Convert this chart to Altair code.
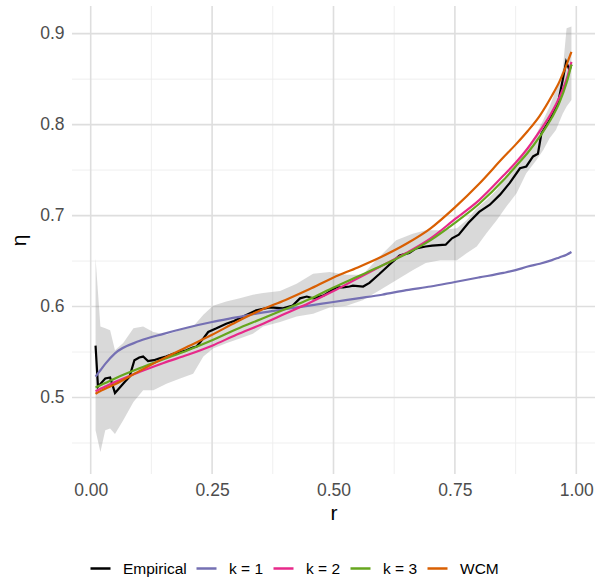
import altair as alt
import pandas as pd

# ---------------- data ----------------
emp_x = [0.01, 0.015, 0.02, 0.03, 0.04, 0.05, 0.06, 0.07, 0.08, 0.09, 0.1, 0.108, 0.118,
         0.13, 0.142, 0.155, 0.17, 0.185, 0.197, 0.21, 0.218, 0.232, 0.242, 0.259, 0.279,
         0.295, 0.314, 0.341, 0.369, 0.396, 0.416, 0.431, 0.445, 0.458, 0.479, 0.506, 0.52,
         0.533, 0.54, 0.561, 0.574, 0.595, 0.615, 0.636, 0.656, 0.67, 0.69, 0.703, 0.731,
         0.744, 0.758, 0.778, 0.8, 0.822, 0.843, 0.863, 0.884, 0.897, 0.911, 0.921, 0.928,
         0.945, 0.962, 0.972, 0.979, 0.986, 0.99]
emp_y = [0.557, 0.512, 0.515, 0.521, 0.522, 0.505, 0.511, 0.517, 0.523, 0.541, 0.544, 0.545,
         0.540, 0.541, 0.543, 0.545, 0.548, 0.550, 0.552, 0.555, 0.556, 0.565, 0.572, 0.576,
         0.581, 0.584, 0.589, 0.596, 0.599, 0.598, 0.601, 0.609, 0.611, 0.609, 0.612, 0.621,
         0.621, 0.622, 0.623, 0.622, 0.626, 0.636, 0.646, 0.656, 0.659, 0.664, 0.666, 0.667,
         0.668, 0.675, 0.679, 0.692, 0.704, 0.712, 0.723, 0.736, 0.752, 0.754, 0.765, 0.768,
         0.790, 0.805, 0.823, 0.849, 0.869, 0.860, 0.866]

band_x = [0.01, 0.02, 0.03, 0.04, 0.05, 0.067, 0.088, 0.108, 0.129, 0.156, 0.184, 0.211,
          0.232, 0.252, 0.279, 0.307, 0.334, 0.355, 0.39, 0.424, 0.458, 0.492, 0.527, 0.56,
          0.595, 0.629, 0.663, 0.69, 0.72, 0.754, 0.774, 0.795, 0.815, 0.836, 0.856, 0.877,
          0.897, 0.918, 0.932, 0.945, 0.958, 0.972, 0.98, 0.99]
band_hi = [0.653, 0.578, 0.576, 0.574, 0.552, 0.560, 0.576, 0.578, 0.572, 0.569, 0.574, 0.578,
           0.591, 0.601, 0.6055, 0.609, 0.613, 0.615, 0.617, 0.625, 0.636, 0.638, 0.635, 0.635,
           0.655, 0.673, 0.680, 0.684, 0.684, 0.686, 0.695, 0.708, 0.717, 0.728, 0.743, 0.7575,
           0.772, 0.790, 0.805, 0.820, 0.838, 0.860, 0.906, 0.908]
band_lo = [0.464, 0.440, 0.464, 0.466, 0.460, 0.475, 0.495, 0.508, 0.508, 0.515, 0.521, 0.526,
           0.545, 0.554, 0.5596, 0.565, 0.570, 0.578, 0.583, 0.589, 0.592, 0.599, 0.601, 0.607,
           0.618, 0.629, 0.640, 0.648, 0.651, 0.651, 0.6585, 0.666, 0.6805, 0.695, 0.710, 0.7245,
           0.7465, 0.761, 0.772, 0.785, 0.794, 0.812, 0.820, 0.827]

model_x = [0.01, 0.02, 0.03, 0.05, 0.1, 0.15, 0.2, 0.25, 0.3, 0.35, 0.4, 0.45, 0.5, 0.55,
           0.6, 0.65, 0.7, 0.75, 0.8, 0.85, 0.875, 0.9, 0.925, 0.95, 0.965, 0.98, 0.99]
k1_y = [0.523, 0.530, 0.537, 0.5485, 0.562, 0.570, 0.577, 0.583, 0.588, 0.593, 0.597, 0.601,
        0.605, 0.609, 0.613, 0.618, 0.622, 0.627, 0.632, 0.637, 0.640, 0.644, 0.647, 0.651,
        0.654, 0.657, 0.660]
k2_y = [0.507, 0.5095, 0.512, 0.517, 0.528, 0.538, 0.547, 0.557, 0.569, 0.580, 0.592, 0.604,
        0.617, 0.631, 0.645, 0.659, 0.675, 0.696, 0.717, 0.744, 0.758, 0.774, 0.793, 0.814,
        0.830, 0.850, 0.869]
k3_y = [0.511, 0.5135, 0.516, 0.521, 0.532, 0.542, 0.552, 0.563, 0.575, 0.586, 0.597, 0.608,
        0.621, 0.633, 0.645, 0.658, 0.673, 0.692, 0.713, 0.739, 0.754, 0.769, 0.787, 0.808,
        0.824, 0.846, 0.866]
wcm_y = [0.504, 0.507, 0.5095, 0.5145, 0.529, 0.543, 0.556, 0.569, 0.583, 0.596, 0.607, 0.619,
         0.632, 0.643, 0.655, 0.669, 0.686, 0.709, 0.735, 0.764, 0.778, 0.793, 0.810, 0.832,
         0.847, 0.866, 0.880]

series_names = ["Empirical", "k = 1", "k = 2", "k = 3", "WCM"]
series_colors = ["#000000", "#7570B3", "#E7298A", "#66A61E", "#D95F02"]

x_major = [0.0, 0.25, 0.5, 0.75, 1.0]
x_minor = [0.125, 0.375, 0.625, 0.875]
y_major = [0.5, 0.6, 0.7, 0.8, 0.9]
y_minor = [0.45, 0.55, 0.65, 0.75, 0.85]

# ---------------- tables ----------------
emp_df = pd.DataFrame({"r": emp_x, "eta": emp_y, "series": "Empirical"})
rows = []
for nm, yv in [("k = 1", k1_y), ("k = 2", k2_y), ("k = 3", k3_y), ("WCM", wcm_y)]:
    rows += [{"r": a, "eta": b, "series": nm} for a, b in zip(model_x, yv)]
mod_df = pd.DataFrame(rows)
band_df = pd.DataFrame({"r": band_x, "lo": band_lo, "hi": band_hi})

xs = alt.Scale(domain=[-0.0385, 1.0385], nice=False, zero=False)
ys = alt.Scale(domain=[0.4159, 0.9304], nice=False, zero=False)

FONT = "Liberation Sans"

x_axis = alt.Axis(values=x_major, format=".2f", title="r", grid=False, ticks=False,
                  domain=False, labelFontSize=17.5, labelColor="#4d4d4d",
                  labelPadding=7, labelFont=FONT, titleFont=FONT, titleFontSize=21,
                  titleFontWeight="normal", titleColor="#000000", titlePadding=4)
y_axis = alt.Axis(values=y_major, format=".1f", title="η", grid=False, ticks=False,
                  domain=False, labelFontSize=17.5, labelColor="#4d4d4d",
                  labelPadding=8, labelFont=FONT, titleFont=FONT, titleFontSize=21,
                  titleFontWeight="normal", titleColor="#000000", titlePadding=10)

def vrules(vals, color, w):
    return alt.Chart(pd.DataFrame({"v": vals})).mark_rule(color=color, strokeWidth=w).encode(
        x=alt.X("v:Q", scale=xs, axis=x_axis, title="r"))

def hrules(vals, color, w):
    return alt.Chart(pd.DataFrame({"v": vals})).mark_rule(color=color, strokeWidth=w).encode(
        y=alt.Y("v:Q", scale=ys, axis=y_axis, title="η"))

grid = alt.layer(
    vrules(x_minor, "#ededed", 0.9),
    hrules(y_minor, "#ededed", 0.9),
    vrules(x_major, "#dedede", 1.6),
    hrules(y_major, "#dedede", 1.6),
)

band = alt.Chart(band_df).mark_area(color="#808080", opacity=0.3).encode(
    x=alt.X("r:Q", scale=xs, axis=x_axis, title="r"),
    y=alt.Y("lo:Q", scale=ys, axis=y_axis, title="η"),
    y2="hi:Q",
)

color_enc = alt.Color(
    "series:N",
    scale=alt.Scale(domain=series_names, range=series_colors),
    legend=alt.Legend(title=None, orient="none", direction="horizontal",
                      legendX=17, legendY=551, symbolType="stroke",
                      symbolSize=400, symbolStrokeWidth=2.5,
                      labelFontSize=15.5, labelFont=FONT, labelColor="#000000",
                      labelOffset=11, columnPadding=4, padding=0),
)

emp = alt.Chart(emp_df).mark_line(strokeWidth=2.2).encode(
    x=alt.X("r:Q", scale=xs, axis=x_axis, title="r"),
    y=alt.Y("eta:Q", scale=ys, axis=y_axis, title="η"),
    color=color_enc,
)

models = alt.Chart(mod_df).mark_line(strokeWidth=2.2, interpolate="monotone").encode(
    x=alt.X("r:Q", scale=xs, axis=x_axis, title="r"),
    y=alt.Y("eta:Q", scale=ys, axis=y_axis, title="η"),
    color=color_enc,
)

chart = alt.layer(grid, band, emp, models).properties(
    width=523, height=468,
    padding={"left": 72, "top": 6, "right": 1, "bottom": 107},
    autosize=alt.AutoSizeParams(type="none"),
).configure_view(stroke=None)

chart.save("out.html", embed_options={"renderer": "svg", "actions": False})
